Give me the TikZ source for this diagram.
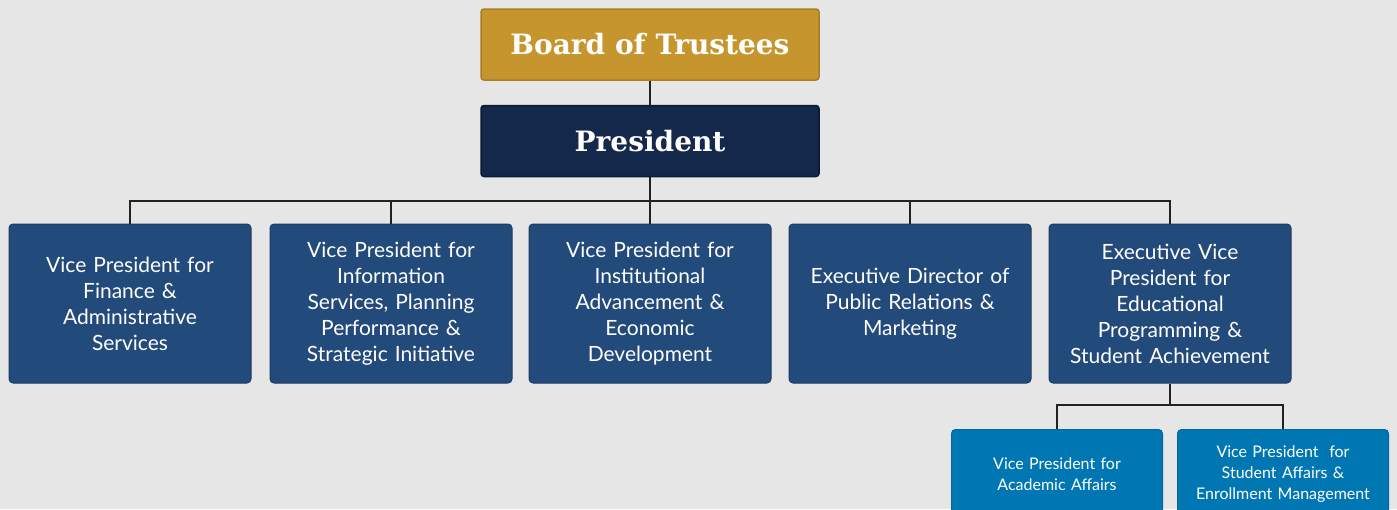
\documentclass[tikz,border=0pt]{standalone}
\usepackage{fontspec}
\setmainfont{Lato}
\newfontfamily\slabfont{DejaVu Serif}
\definecolor{bgc}{HTML}{E6E6E6}
\definecolor{goldc}{HTML}{C6952E}
\definecolor{goldb}{HTML}{A87F25}
\definecolor{navyc}{HTML}{13284A}
\definecolor{navyb}{HTML}{0B1A33}
\definecolor{bluec}{HTML}{224A7A}
\definecolor{blueb}{HTML}{1A3C66}
\definecolor{lightc}{HTML}{0077B3}
\definecolor{lightb}{HTML}{0068A0}
\definecolor{linec}{HTML}{222222}
\begin{document}
\begin{tikzpicture}[x=1pt,y=-1pt,
  topbox/.style={draw=goldb,fill=goldc,line width=1.5pt,rounded corners=3pt,minimum width=338pt,minimum height=71pt,inner sep=0pt,text=white,font=\slabfont\bfseries\fontsize{28}{34}\selectfont},
  presbox/.style={topbox,draw=navyb,fill=navyc},
  midbox/.style={draw=blueb,fill=bluec,line width=1pt,rounded corners=4pt,minimum width=242pt,minimum height=159pt,inner sep=0pt,text=white,align=center,text width=230pt,font=\fontsize{21}{26}\selectfont},
  lowbox/.style={draw=lightb,fill=lightc,line width=1pt,rounded corners=4pt,minimum width=211pt,minimum height=90pt,inner sep=0pt,text=white,align=center,text width=200pt,font=\fontsize{16}{21}\selectfont},
  conn/.style={draw=linec,line width=1.8pt}]
\fill[bgc] (0,0) rectangle (1397,509);
\useasboundingbox (0,0) rectangle (1397,509);
\clip (0,0) rectangle (1397,509);
\node[topbox] (board) at (650,44.5) {Board of Trustees};
\node[presbox] (pres) at (650,141) {President};
\node[midbox] (m1) at (130,303.5) {Vice President for\\Finance \&\\Administrative\\Services};
\node[midbox] (m2) at (391,303.5) {Vice President for\\Information\\Services, Planning\\Performance \&\\Strategic Initiative};
\node[midbox] (m3) at (650,303.5) {Vice President for\\Institutional\\Advancement \&\\Economic\\Development};
\node[midbox] (m4) at (910,303.5) {Executive Director of\\Public Relations \&\\Marketing};
\node[midbox] (m5) at (1170,303.5) {Executive Vice\\President for\\Educational\\Programming \&\\Student Achievement};
\node[lowbox,anchor=north] (l1) at (1057,429) {Vice President for\\Academic Affairs};
\node[lowbox,anchor=north] (l2) at (1283,429) {Vice President\ \ for\\Student Affairs \&\\Enrollment Management};
\coordinate (bus) at (650,201);
\coordinate (bus2) at (1170,405);
\draw[conn] (board.south) -- (pres.north);
\draw[conn] (pres.south) -- (bus);
\draw[conn] (m1.north) |- (bus) -| (m5.north);
\draw[conn] (m2.north) -- (m2.north |- bus);
\draw[conn] (m3.north) -- (bus);
\draw[conn] (m4.north) -- (m4.north |- bus);
\draw[conn] (m5.south) -- (bus2);
\draw[conn] (l1.north) |- (bus2) -| (l2.north);
\end{tikzpicture}
\end{document}
